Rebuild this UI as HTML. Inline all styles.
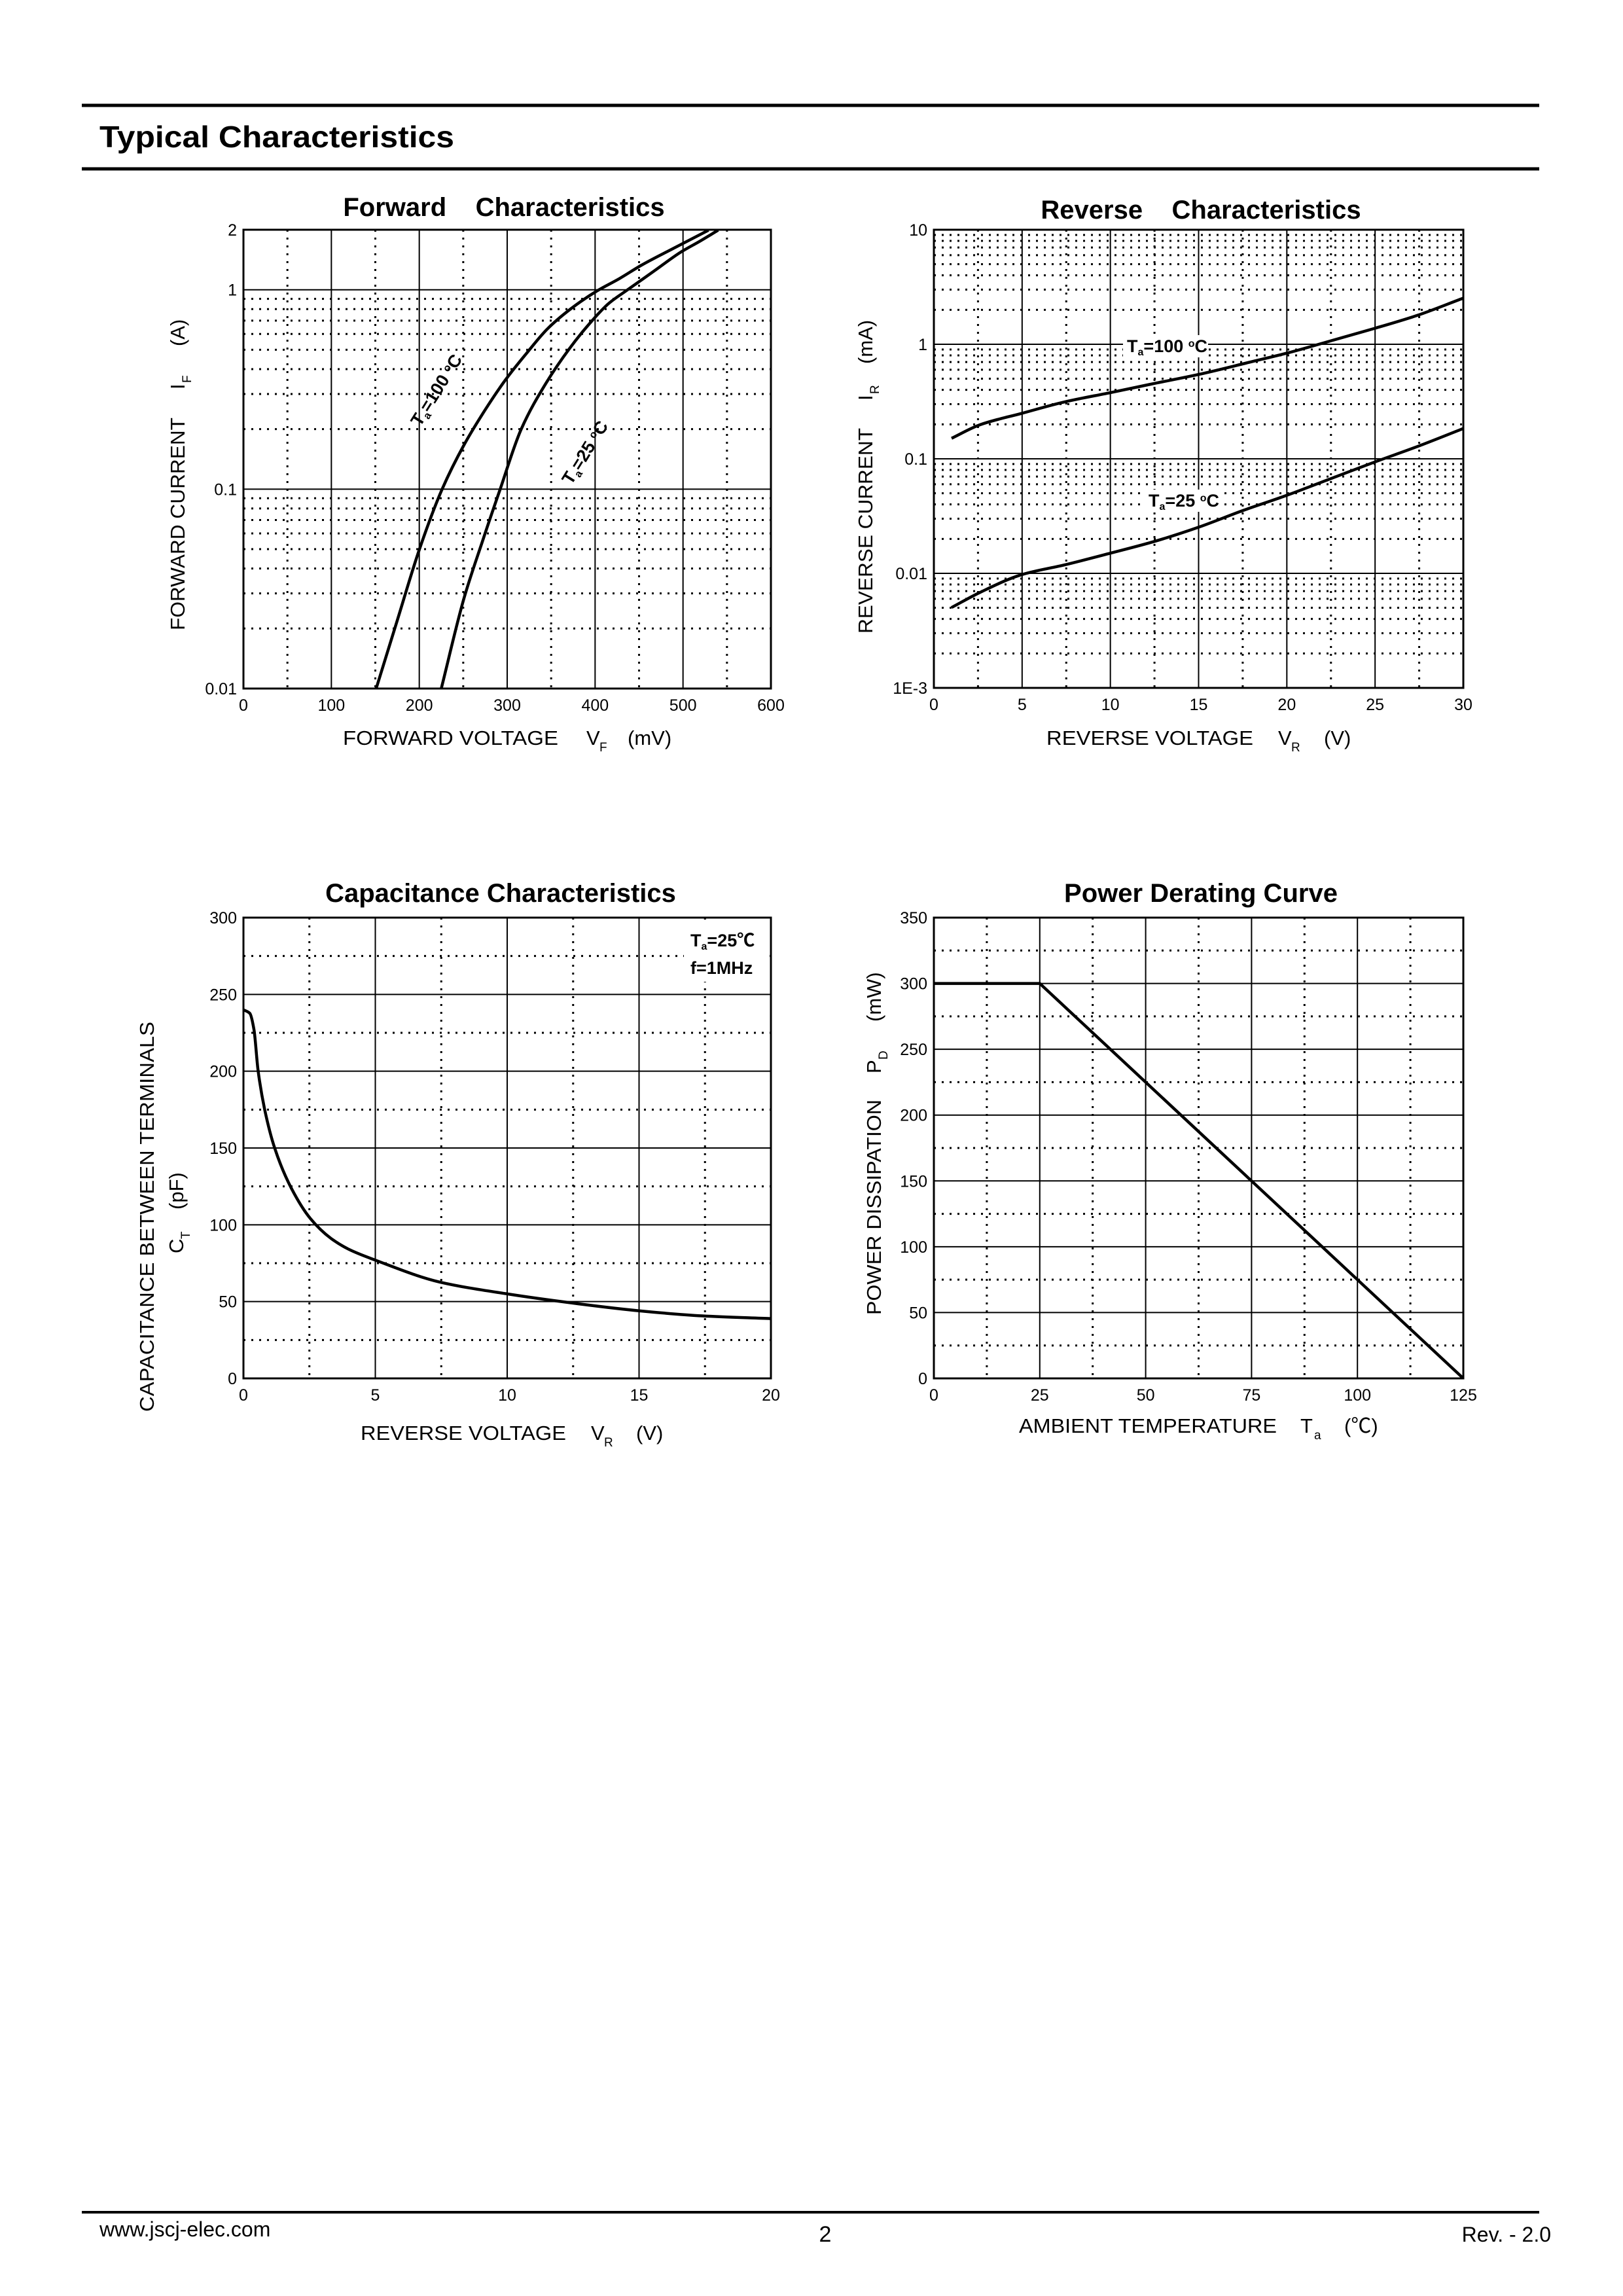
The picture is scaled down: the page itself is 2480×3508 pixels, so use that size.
<!DOCTYPE html>
<html><head><meta charset="utf-8">
<style>
html,body{margin:0;padding:0;background:#fff;}
svg{display:block;font-family:"Liberation Sans","Noto Sans CJK SC",sans-serif;}
</style></head>
<body>
<svg id="page" xmlns="http://www.w3.org/2000/svg" width="2480" height="3508" viewBox="0 0 2480 3508">
<rect x="0" y="0" width="2480" height="3508" fill="#fff"/>
<line x1="125" y1="161" x2="2352" y2="161" stroke="#000" stroke-width="5"/>
<line x1="125" y1="258" x2="2352" y2="258" stroke="#000" stroke-width="5"/>
<text x="152" y="225" font-size="46" font-weight="bold" textLength="542" lengthAdjust="spacingAndGlyphs">Typical Characteristics</text>

<g id="forward"></g>
<g id="reverse"></g>
<g id="cap"></g>
<g id="power"></g>

<text x="770" y="330" font-size="40" font-weight="bold" text-anchor="middle" xml:space="preserve">Forward    Characteristics</text>
<text x="1835" y="334" font-size="40" font-weight="bold" text-anchor="middle" xml:space="preserve">Reverse    Characteristics</text>
<text x="765" y="1378" font-size="40" font-weight="bold" text-anchor="middle">Capacitance Characteristics</text>
<text x="1835" y="1378" font-size="40" font-weight="bold" text-anchor="middle">Power Derating Curve</text>

<g font-size="31">
<text x="524" y="1138" textLength="329" lengthAdjust="spacingAndGlyphs">FORWARD VOLTAGE</text>
<text x="896" y="1138">V</text><text x="916" y="1148" font-size="19">F</text>
<text x="959" y="1138">(mV)</text></g>
<g font-size="31">
<text x="1599" y="1138" textLength="316" lengthAdjust="spacingAndGlyphs">REVERSE VOLTAGE</text>
<text x="1953" y="1138">V</text><text x="1973" y="1148" font-size="19">R</text>
<text x="2023" y="1138">(V)</text></g>
<g font-size="31">
<text x="551" y="2200" textLength="314" lengthAdjust="spacingAndGlyphs">REVERSE VOLTAGE</text>
<text x="903" y="2200">V</text><text x="923" y="2210" font-size="19">R</text>
<text x="972" y="2200">(V)</text></g>
<g font-size="31">
<text x="1557" y="2189" textLength="394" lengthAdjust="spacingAndGlyphs">AMBIENT TEMPERATURE</text>
<text x="1987" y="2189">T</text><text x="2008" y="2199" font-size="19">a</text>
<text x="2054" y="2189">(℃)</text></g>

<g font-size="31" transform="translate(282,0) rotate(-90)">
<text x="-963" y="0" textLength="325" lengthAdjust="spacingAndGlyphs">FORWARD CURRENT</text>
<text x="-595" y="0">I</text><text x="-585" y="10" font-size="19">F</text>
<text x="-529" y="0">(A)</text></g>
<g font-size="31" transform="translate(1333,0) rotate(-90)">
<text x="-968" y="0" textLength="314" lengthAdjust="spacingAndGlyphs">REVERSE CURRENT</text>
<text x="-612" y="0">I</text><text x="-602" y="10" font-size="19">R</text>
<text x="-556" y="0">(mA)</text></g>
<g font-size="31">
<text transform="translate(235,0) rotate(-90)" x="-2157" y="0" textLength="596" lengthAdjust="spacingAndGlyphs">CAPACITANCE BETWEEN TERMINALS</text>
<g transform="translate(280,0) rotate(-90)"><text x="-1915" y="0">C</text><text x="-1893" y="10" font-size="19">T</text>
<text x="-1848" y="0">(pF)</text></g></g>
<g font-size="31" transform="translate(1346,0) rotate(-90)">
<text x="-2009" y="0" textLength="329" lengthAdjust="spacingAndGlyphs">POWER DISSIPATION</text>
<text x="-1640" y="0">P</text><text x="-1619" y="10" font-size="19">D</text>
<text x="-1561" y="0">(mW)</text></g>

<line x1="125" y1="3380" x2="2352" y2="3380" stroke="#000" stroke-width="4"/>
<text x="152" y="3417" font-size="32">www.jscj-elec.com</text>
<text x="1261" y="3425" font-size="34" text-anchor="middle">2</text>
<text x="2370" y="3425" font-size="32" text-anchor="end">Rev. - 2.0</text>
</svg>
<script>
const fwdXTicks = [0,100,200,300,400,500,600];
const fwdYTicks = [0.01,0.1,1,2];
const fwdYTickLabels = ['0.01','0.1','1','2'];
const fwd100V = [151,175,200,226,251,275,298,322,346,372,401,428,453,490,529];
const fwd100I = [0.01,0.022,0.0497,0.1,0.167,0.25,0.353,0.48,0.638,0.8,0.98,1.14,1.33,1.62,1.99];
const fwd25V = [225,251,272,292,316,344,371,393,415,437,467,497,520,540];
const fwd25I = [0.01,0.0285,0.055,0.1,0.2,0.339,0.508,0.671,0.85,1.0,1.24,1.54,1.76,1.99];

const revXTicks = [0,5,10,15,20,25,30];
const revYTicks = [0.001,0.01,0.1,1,10];
const revYTickLabels = ['1E-3','0.01','0.1','1','10'];
const rev100V = [1,2.6,5,7.45,10,12.5,15,18,20,22.2,25,27.4,30];
const rev100I = [0.151,0.198,0.25,0.315,0.378,0.455,0.545,0.704,0.836,1.04,1.38,1.79,2.53];
const rev25V = [1,2.6,5,7.45,10,12.5,15,17.5,20,22.5,25,27.4,30];
const rev25I = [0.00503,0.0068,0.00977,0.0119,0.015,0.019,0.0253,0.0353,0.048,0.0672,0.094,0.128,0.184];

const capXTicks = [0,5,10,15,20];
const capYTicks = [0,50,100,150,200,250,300];
const capV = [0,0.24,0.4,0.55,0.8,1.19,1.82,2.54,3.33,4,5,7.45,10,12.5,15,17.4,20];
const capC = [240,237.7,227,201,175.5,149.6,123.7,104,91,84,77,62.7,55,49,44,40.7,38.9];

const pwrXTicks = [0,25,50,75,100,125];
const pwrYTicks = [0,50,100,150,200,250,300,350];
const pwrT = [0,25,125];
const pwrP = [300,300,0];

const NS='http://www.w3.org/2000/svg';
function mk(tag, parent){const e=document.createElementNS(NS,tag);parent.appendChild(e);return e;}
function axes(c){
  c.sx = v => c.px0 + (v-c.xmin)/(c.xmax-c.xmin)*(c.px1-c.px0);
  if(c.log){c.sy = v => c.py1 - (Math.log10(v)-Math.log10(c.ymin))/(Math.log10(c.ymax)-Math.log10(c.ymin))*(c.py1-c.py0);}
  else {c.sy = v => c.py1 - (v-c.ymin)/(c.ymax-c.ymin)*(c.py1-c.py0);}
  return c;
}
function hline(c,y,dotted){
  const l=mk('line',c.g);
  
  
  l.setAttribute('x1',c.px0);l.setAttribute('x2',c.px1);l.setAttribute('y1',y);l.setAttribute('y2',y);
  l.setAttribute('stroke','#000');
  if(dotted){l.setAttribute('stroke-width','3');l.setAttribute('stroke-dasharray','3 9');}
  else l.setAttribute('stroke-width','2');
}
function vline(c,x,dotted){
  const l=mk('line',c.g);
  
  
  l.setAttribute('x1',x);l.setAttribute('x2',x);l.setAttribute('y1',c.py0);l.setAttribute('y2',c.py1);
  l.setAttribute('stroke','#000');
  if(dotted){l.setAttribute('stroke-width','3');l.setAttribute('stroke-dasharray','3 9');}
  else l.setAttribute('stroke-width','2');
}
function label(c,x,y,txt,anchor,name){
  const t=mk('text',c.g);
  
  
  t.setAttribute('x',x);t.setAttribute('y',y);t.setAttribute('font-size','25');
  t.setAttribute('text-anchor',anchor);t.textContent=txt;
}
function frame(c){
  const r=mk('rect',c.g);
  
  
  r.setAttribute('x',c.px0);r.setAttribute('y',c.py0);r.setAttribute('width',c.px1-c.px0);r.setAttribute('height',c.py1-c.py0);
  r.setAttribute('fill','none');r.setAttribute('stroke','#000');r.setAttribute('stroke-width','3');
}
function xticks(c,ticks,minorStep){
  ticks.forEach((v,i)=>{ if(i>0&&i<ticks.length-1) vline(c,c.sx(v),false);
    label(c,c.sx(v),c.py1+34,String(v),'middle','x-tick-label');});
  for(let i=0;i<ticks.length-1;i++) vline(c,c.sx(ticks[i]+minorStep),true);
}
function linYticks(c,ticks,minorStep){
  ticks.forEach((v,i)=>{ if(i>0&&i<ticks.length-1) hline(c,c.sy(v),false);
    label(c,c.px0-10,c.sy(v)+9,String(v),'end','y-tick-label');});
  for(let i=0;i<ticks.length-1;i++) hline(c,c.sy(ticks[i]+minorStep),true);
}
function logYticks(c,ticks,labels){
  ticks.forEach((v,i)=>{ if(v>c.ymin&&v<c.ymax) hline(c,c.sy(v),false);
    label(c,c.px0-10,c.sy(v)+9,labels[i],'end','y-tick-label');});
  for(let d=Math.log10(c.ymin); d<Math.log10(c.ymax)-1e-9; d++){
    const base=Math.pow(10,d);
    if(base*10>c.ymax+1e-12) continue;
    for(let m=2;m<=9;m++) hline(c,c.sy(base*m),true);
  }
}
// monotone cubic (Fritsch-Carlson) in pixel space
function curve(c,xs,ys,name,smooth){
  const p=xs.map((x,i)=>[c.sx(x),c.sy(ys[i])]);
  const n=p.length;
  let d='M'+p[0][0].toFixed(1)+' '+p[0][1].toFixed(1);
  if(!smooth){for(let i=1;i<n;i++) d+=' L'+p[i][0].toFixed(1)+' '+p[i][1].toFixed(1);}
  else{
    const dx=[],m=[],t=[];
    for(let i=0;i<n-1;i++){dx[i]=p[i+1][0]-p[i][0];m[i]=(p[i+1][1]-p[i][1])/dx[i];}
    t[0]=m[0];t[n-1]=m[n-2];
    for(let i=1;i<n-1;i++){
      if(m[i-1]*m[i]<=0) t[i]=0;
      else{const w1=2*dx[i]+dx[i-1],w2=dx[i]+2*dx[i-1];t[i]=(w1+w2)/(w1/m[i-1]+w2/m[i]);}
    }
    for(let i=0;i<n-1;i++){
      const h=dx[i]/3;
      d+=' C'+(p[i][0]+h).toFixed(1)+' '+(p[i][1]+t[i]*h).toFixed(1)+' '+(p[i+1][0]-h).toFixed(1)+' '+(p[i+1][1]-t[i+1]*h).toFixed(1)+' '+p[i+1][0].toFixed(1)+' '+p[i+1][1].toFixed(1);
    }
  }
  const e=mk('path',c.g);
  
  
  e.setAttribute('d',d);e.setAttribute('fill','none');e.setAttribute('stroke','#000');e.setAttribute('stroke-width','4.5');
}
function whiteBox(c,x,y,w,h){
  const r=mk('rect',c.g);
  
  
  r.setAttribute('x',x);r.setAttribute('y',y);r.setAttribute('width',w);r.setAttribute('height',h);r.setAttribute('fill','#fff');
}
function richLabel(c,x,y,parts,name,transform){
  const t=mk('text',c.g);
  
  
  t.setAttribute('x',x);t.setAttribute('y',y);t.setAttribute('font-size','27');t.setAttribute('font-weight','bold');
  if(transform) t.setAttribute('transform',transform);
  parts.forEach(pt=>{const s=document.createElementNS(NS,'tspan');
    if(pt[1]) s.setAttribute('baseline-shift',pt[1]);
    if(pt[2]) s.setAttribute('font-size',pt[2]);
    s.textContent=pt[0];t.appendChild(s);});
  return t;
}
const TA=[['T'],['a','-30%','16'],['=']];

const F=axes({g:document.getElementById('forward'),px0:372,px1:1178,py0:351,py1:1052,xmin:0,xmax:600,ymin:0.01,ymax:2,log:true});
xticks(F,fwdXTicks,50);
logYticks(F,fwdYTicks,fwdYTickLabels);
frame(F);
curve(F,fwd100V,fwd100I,'curve-ta-100c',true);
curve(F,fwd25V,fwd25I,'curve-ta-25c',true);
richLabel(F,0,0,TA.concat([['100 '],['o','super','16'],['C']]),'label-ta-100c','translate(642,653) rotate(-58)');
richLabel(F,0,0,TA.concat([['25 '],['o','super','16'],['C']]),'label-ta-25c','translate(873,742) rotate(-58)');

const R=axes({g:document.getElementById('reverse'),px0:1427,px1:2236,py0:351,py1:1051,xmin:0,xmax:30,ymin:0.001,ymax:10,log:true});
xticks(R,revXTicks,2.5);
logYticks(R,revYTicks,revYTickLabels);
frame(R);
curve(R,rev100V,rev100I,'curve-ta-100c',true);
curve(R,rev25V,rev25I,'curve-ta-25c',true);
whiteBox(R,1716,512,130,34);
richLabel(R,1722,538,TA.concat([['100 '],['o','super','16'],['C']]),'label-ta-100c');
whiteBox(R,1750,748,112,34);
richLabel(R,1755,774,TA.concat([['25 '],['o','super','16'],['C']]),'label-ta-25c');

const C=axes({g:document.getElementById('cap'),px0:372,px1:1178,py0:1402,py1:2106,xmin:0,xmax:20,ymin:0,ymax:300,log:false});
xticks(C,capXTicks,2.5);
linYticks(C,capYTicks,25);
frame(C);
whiteBox(C,1045,1410,128,90);
curve(C,capV,capC,'curve-capacitance',true);
richLabel(C,1055,1446,TA.concat([['25℃']]),'legend-ta-25c');
richLabel(C,1055,1488,[['f=1MHz']],'legend-frequency');

const P=axes({g:document.getElementById('power'),px0:1427,px1:2236,py0:1402,py1:2106,xmin:0,xmax:125,ymin:0,ymax:350,log:false});
xticks(P,pwrXTicks,12.5);
linYticks(P,pwrYTicks,25);
frame(P);
curve(P,pwrT,pwrP,'curve-power-derating',false);
</script>
</body></html>
